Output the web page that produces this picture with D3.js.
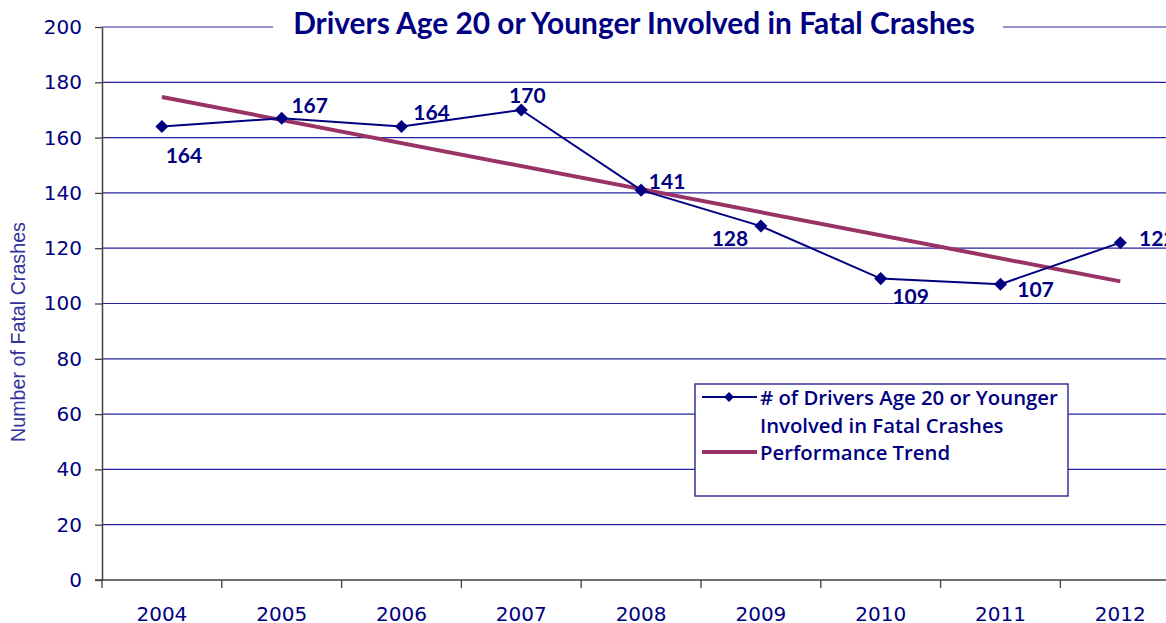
<!DOCTYPE html>
<html>
<head>
<meta charset="utf-8">
<script src="https://d3js.org/d3.v7.min.js"></script>
<style>
  body { margin: 0; background: #fff; }
  svg { display: block; }
</style>
</head>
<body>
<div id="chart"></div>
<script>
// data
const years = ["2004", "2005", "2006", "2007", "2008", "2009", "2010", "2011", "2012"];
const crashes = [164, 167, 164, 170, 141, 128, 109, 107, 122];
const trendYears = ["2004", "2012"];
const trendValues = [174.7, 108.0];
const yTicks = [0, 20, 40, 60, 80, 100, 120, 140, 160, 180, 200];

// where each value label sits relative to its marker
const labelOffsets = [[22, 28], [28, -14], [30, -15], [6, -15], [26, -10], [-31, 11], [30, 17], [35, 4], [37, -5]];

const W = 1166, H = 623;
const plotLeft = 102, plotTop = 27, plotBottom = 580;
const bandW = 119.8;

const navy = "#000080";
const gridColor = "#24249c";
const trendColor = "#993366";

const svg = d3.select("#chart").append("svg")
    .attr("width", W)
    .attr("height", H);

const x = d3.scaleBand()
    .domain(years)
    .range([plotLeft, plotLeft + bandW * years.length])
    .paddingInner(0).paddingOuter(0);
const cx = (d) => x(d) + x.bandwidth() / 2;

const y = d3.scaleLinear()
    .domain([0, 200])
    .range([plotBottom, plotTop]);

// shrink/grow a text so it spans the width seen in the picture
function fitWidth(sel, px) {
  const size = parseFloat(sel.style("font-size"));
  const w = sel.node().getComputedTextLength();
  sel.style("font-size", (size * px / w) + "px");
}

// gridlines
svg.append("g")
  .selectAll("line")
  .data(yTicks.filter(d => d > 0))
  .enter().append("line")
    .attr("x1", plotLeft).attr("x2", W)
    .attr("y1", d => y(d)).attr("y2", d => y(d))
    .attr("stroke", gridColor)
    .attr("stroke-width", 1.2);

// y axis
const yAxis = d3.axisLeft(y).tickValues(yTicks).tickSize(7).tickSizeOuter(0).tickPadding(13);
const gy = svg.append("g")
    .attr("transform", "translate(" + plotLeft + ",0)")
    .call(yAxis);
gy.select(".domain").attr("stroke", "#404040").attr("stroke-width", 1.5);
gy.selectAll(".tick line").attr("stroke", "#404040").attr("stroke-width", 1.3);
gy.selectAll(".tick text")
    .attr("fill", navy)
    .style("font-family", "DejaVu Sans")
    .style("font-size", "20px");

// x axis: labels centred, tick marks on category boundaries
const xAxis = d3.axisBottom(x).tickSize(0).tickPadding(27);
const gx = svg.append("g")
    .attr("transform", "translate(0," + plotBottom + ")")
    .call(xAxis);
gx.select(".domain").remove();
gx.selectAll(".tick text")
    .attr("fill", navy)
    .style("font-family", "DejaVu Sans")
    .style("font-size", "20px");

svg.append("line")
    .attr("x1", plotLeft - 7).attr("x2", W)
    .attr("y1", plotBottom).attr("y2", plotBottom)
    .attr("stroke", "#404040").attr("stroke-width", 1.5);

svg.append("g")
  .selectAll("line")
  .data(years)
  .enter().append("line")
    .attr("x1", d => x(d)).attr("x2", d => x(d))
    .attr("y1", plotBottom).attr("y2", plotBottom + 8)
    .attr("stroke", "#404040").attr("stroke-width", 1.3);

// title, with white backing that breaks the top gridline
svg.append("rect")
    .attr("x", 273).attr("y", 8).attr("width", 730).attr("height", 30)
    .attr("fill", "#fff");
const title = svg.append("text")
    .attr("x", 634).attr("y", 22)
    .attr("text-anchor", "middle")
    .attr("dominant-baseline", "central")
    .attr("fill", navy)
    .style("font-family", "Lato")
    .style("font-weight", "700")
    .style("font-size", "24px")
    .text("Drivers Age 20 or Younger Involved in Fatal Crashes");
fitWidth(title, 682);

// y axis title
const yTitle = svg.append("text")
    .attr("transform", "translate(18,332) rotate(-90)")
    .attr("text-anchor", "middle")
    .attr("dominant-baseline", "central")
    .attr("fill", "#333399")
    .style("font-family", "Liberation Sans")
    .style("font-size", "19px")
    .text("Number of Fatal Crashes");
fitWidth(yTitle, 220);

// trend line
svg.append("path")
    .datum(trendYears.map((d, i) => [d, trendValues[i]]))
    .attr("fill", "none")
    .attr("stroke", trendColor)
    .attr("stroke-width", 4)
    .attr("d", d3.line().x(d => cx(d[0])).y(d => y(d[1])));

// series line
const series = years.map((d, i) => [d, crashes[i]]);
svg.append("path")
    .datum(series)
    .attr("fill", "none")
    .attr("stroke", navy)
    .attr("stroke-width", 2)
    .attr("d", d3.line().x(d => cx(d[0])).y(d => y(d[1])));

const diamond = d3.symbol().type(d3.symbolSquare).size(85);
svg.append("g")
  .selectAll("path")
  .data(series)
  .enter().append("path")
    .attr("d", diamond)
    .attr("transform", d => "translate(" + cx(d[0]) + "," + y(d[1]) + ") rotate(45)")
    .attr("fill", navy);

// value labels
svg.append("g")
  .selectAll("text")
  .data(series)
  .enter().append("text")
    .attr("x", (d, i) => cx(d[0]) + labelOffsets[i][0])
    .attr("y", (d, i) => y(d[1]) + labelOffsets[i][1])
    .attr("text-anchor", "middle")
    .attr("dominant-baseline", "central")
    .attr("fill", navy)
    .style("font-family", "Lato")
    .style("font-weight", "700")
    .style("font-size", "21px")
    .text(d => d[1]);

// legend
const lg = svg.append("g").attr("transform", "translate(695,384)");
lg.append("rect")
    .attr("width", 373).attr("height", 112)
    .attr("fill", "#fff")
    .attr("stroke", "#333399")
    .attr("stroke-width", 1.5);
lg.append("line")
    .attr("x1", 7).attr("x2", 62).attr("y1", 13).attr("y2", 13)
    .attr("stroke", navy).attr("stroke-width", 2);
lg.append("path")
    .attr("d", d3.symbol().type(d3.symbolSquare).size(50))
    .attr("transform", "translate(34,13) rotate(45)")
    .attr("fill", navy);
lg.append("line")
    .attr("x1", 7).attr("x2", 62).attr("y1", 68).attr("y2", 68)
    .attr("stroke", trendColor).attr("stroke-width", 4);
const legendLines = [["# of Drivers Age 20 or Younger", 13], ["Involved in Fatal Crashes", 41], ["Performance Trend", 68]];
const legendText = lg.selectAll("text.leg")
  .data(legendLines)
  .enter().append("text")
    .attr("class", "leg")
    .attr("x", 65)
    .attr("y", d => d[1])
    .attr("dominant-baseline", "central")
    .attr("fill", navy)
    .style("font-family", "Open Sans")
    .style("font-weight", "600")
    .style("font-size", "18px")
    .text(d => d[0]);
// first line spans about 300px in the picture; use the same size for all three
const legendSize = 18 * 298 / legendText.nodes()[0].getComputedTextLength();
legendText.style("font-size", legendSize + "px");
</script>
</body>
</html>
